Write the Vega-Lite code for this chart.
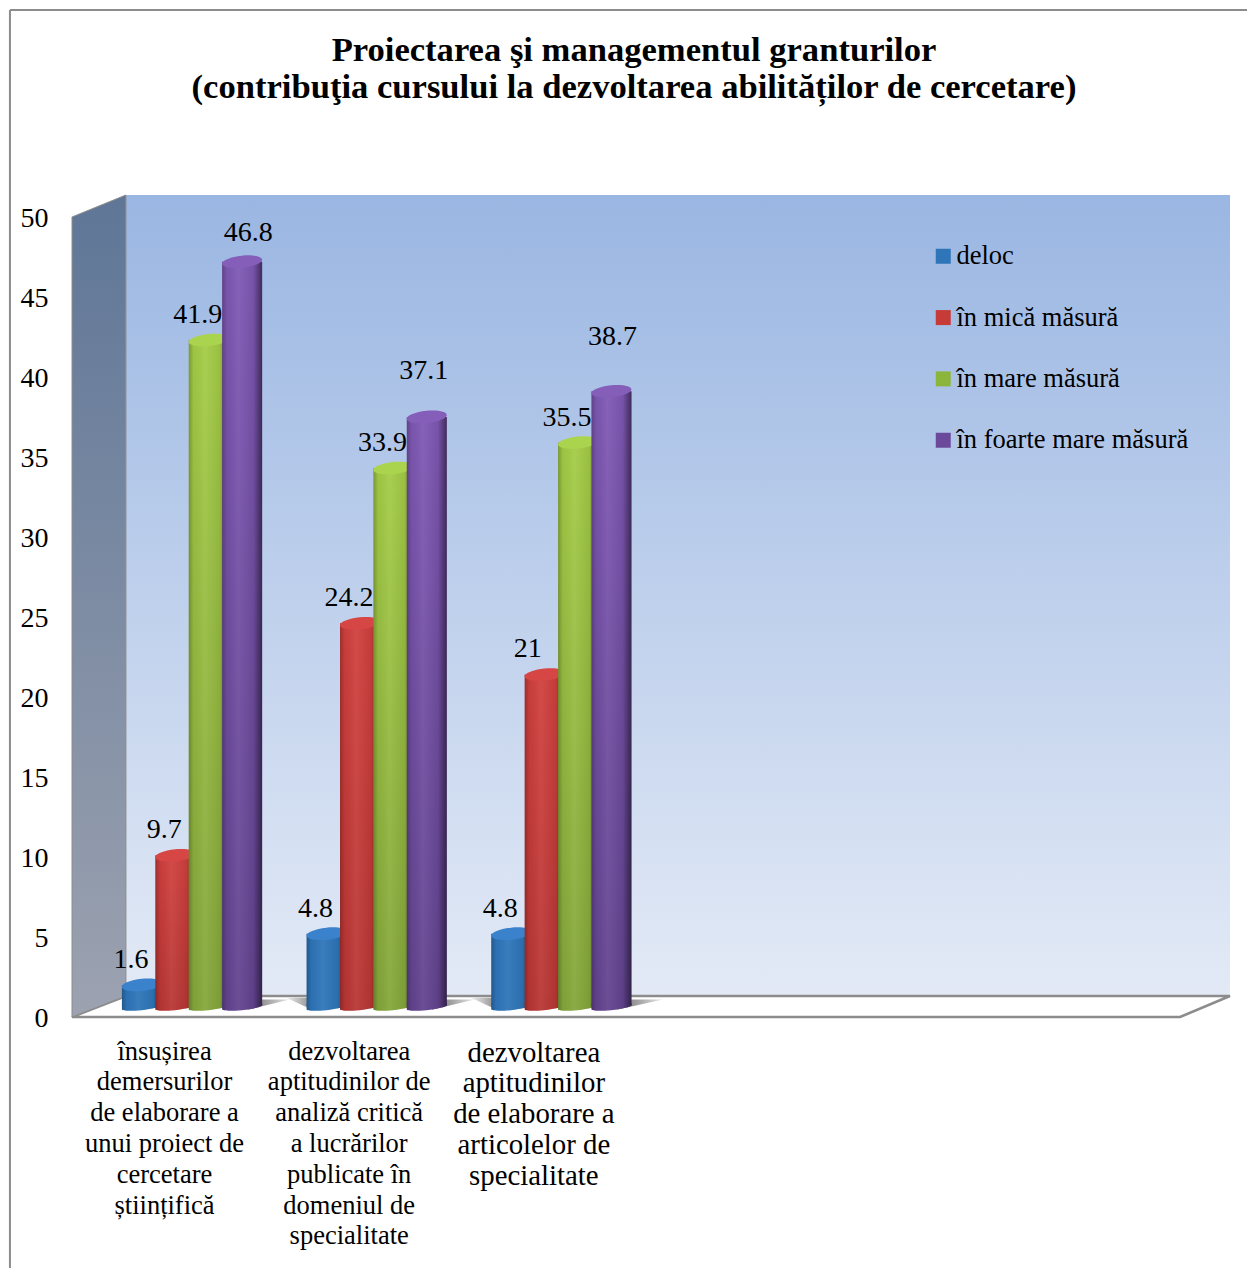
{
"$schema":"https://vega.github.io/schema/vega-lite/v6.json",
"autosize":{"type":"none"},
"padding":{"left":72,"top":195,"right":17,"bottom":251},
"width":1158,"height":822,
"background":"white",
"config":{"view":{"stroke":null},"font":"Liberation Serif"},
"title":{"text":["Proiectarea şi managementul granturilor","(contribuţia cursului la dezvoltarea abilităților de cercetare)"],"anchor":"middle","frame":"group","dx":-17,"offset":0,"dy":97,"fontSize":34.6,"fontWeight":"bold","font":"Liberation Serif","lineHeight":37,"color":"#000000"},
"datasets":{"scores":[
{"criteriu":"însușirea|demersurilor|de elaborare a|unui proiect de|cercetare|științifică","nivel":"deloc","valoare":1.6},
{"criteriu":"însușirea|demersurilor|de elaborare a|unui proiect de|cercetare|științifică","nivel":"în mică măsură","valoare":9.7},
{"criteriu":"însușirea|demersurilor|de elaborare a|unui proiect de|cercetare|științifică","nivel":"în mare măsură","valoare":41.9},
{"criteriu":"însușirea|demersurilor|de elaborare a|unui proiect de|cercetare|științifică","nivel":"în foarte mare măsură","valoare":46.8},
{"criteriu":"dezvoltarea|aptitudinilor de|analiză critică|a lucrărilor|publicate în|domeniul de|specialitate","nivel":"deloc","valoare":4.8},
{"criteriu":"dezvoltarea|aptitudinilor de|analiză critică|a lucrărilor|publicate în|domeniul de|specialitate","nivel":"în mică măsură","valoare":24.2},
{"criteriu":"dezvoltarea|aptitudinilor de|analiză critică|a lucrărilor|publicate în|domeniul de|specialitate","nivel":"în mare măsură","valoare":33.9},
{"criteriu":"dezvoltarea|aptitudinilor de|analiză critică|a lucrărilor|publicate în|domeniul de|specialitate","nivel":"în foarte mare măsură","valoare":37.1},
{"criteriu":"dezvoltarea|aptitudinilor|de elaborare a|articolelor de|specialitate","nivel":"deloc","valoare":4.8},
{"criteriu":"dezvoltarea|aptitudinilor|de elaborare a|articolelor de|specialitate","nivel":"în mică măsură","valoare":21},
{"criteriu":"dezvoltarea|aptitudinilor|de elaborare a|articolelor de|specialitate","nivel":"în mare măsură","valoare":35.5},
{"criteriu":"dezvoltarea|aptitudinilor|de elaborare a|articolelor de|specialitate","nivel":"în foarte mare măsură","valoare":38.7}
]},
"layer":[
{
"encoding":{
"x":{"field":"x","type":"quantitative","scale":{"domain":[0,6.27],"nice":false,"zero":false},"axis":null},
"y":{"field":"y","type":"quantitative","scale":{"domain":[0,51.375],"nice":false,"zero":false},"axis":{"title":null,"values":[0,5,10,15,20,25,30,35,40,45,50],"grid":false,"domain":false,"ticks":false,"labelPadding":24,"labelFontSize":28,"labelOffset":1,"labelColor":"#000000","labelFont":"Liberation Serif"}}
},
"layer":[
{"data":{"values":[{"x":0.292,"x2":6.27,"y":51.375,"y2":1.3125}]},
"mark":{"type":"rect","color":{"gradient":"linear","x1":0,"y1":0,"x2":0,"y2":1,"stops":[{"offset":0,"color":"#9AB6E2"},{"offset":1,"color":"#E3EAF6"}]}},
"encoding":{"x2":{"field":"x2"},"y2":{"field":"y2"}}},
{"data":{"values":[{"x":0,"y":0,"y2":0},{"x":0.292,"y":1.3125,"y2":0},{"x":6,"y":1.3125,"y2":0},{"x":6.27,"y":1.3125,"y2":1.3125}]},
"mark":{"type":"area","fill":"#FFFFFF","stroke":"#8C8C8C","strokeWidth":2.5},
"encoding":{"y2":{"field":"y2"}}},
{"data":{"values":[{"x":0,"y":50,"y2":0},{"x":0.292,"y":51.375,"y2":1.3125}]},
"mark":{"type":"area","color":{"gradient":"linear","x1":0,"y1":0,"x2":0,"y2":1,"stops":[{"offset":0,"color":"#5F7697"},{"offset":1,"color":"#9CA2B0"}]},"stroke":"#8C8C8C","strokeWidth":1},
"encoding":{"y2":{"field":"y2"}}},
{"data":{"values":[{"g":1,"x":0.95,"y":1.1,"y2":0.45},{"g":1,"x":1.18,"y":1.1,"y2":1.1},{"g":2,"x":1.95,"y":1.1,"y2":0.45},{"g":2,"x":2.18,"y":1.1,"y2":1.1},{"g":3,"x":2.95,"y":1.1,"y2":0.45},{"g":3,"x":3.2,"y":1.1,"y2":1.1}]},
"mark":{"type":"area","color":{"gradient":"linear","x1":0,"y1":0,"x2":1,"y2":0,"stops":[{"offset":0,"color":"#666666"},{"offset":1,"color":"#E8E8E8"}]}},
"encoding":{"y2":{"field":"y2"},"detail":{"field":"g"}}},
{"data":{"values":[{"g":2,"x":1.16,"y":1.2,"y2":1.2},{"g":2,"x":1.3,"y":1.2,"y2":0.45},{"g":3,"x":2.16,"y":1.2,"y2":1.2},{"g":3,"x":2.3,"y":1.2,"y2":0.45}]},
"mark":{"type":"area","color":{"gradient":"linear","x1":0,"y1":0,"x2":1,"y2":0,"stops":[{"offset":0,"color":"#EEEEEE"},{"offset":1,"color":"#8A8A8A"}]}},
"encoding":{"y2":{"field":"y2"},"detail":{"field":"g"}}},
{"data":{"values":[{"x":-0.336,"y":62.94,"y2":-15.7}]},
"mark":{"type":"rule","color":"#8C8C8C","strokeWidth":2},
"encoding":{"y2":{"field":"y2"}}},
{"data":{"values":[{"x":-0.336,"x2":6.4,"y":62.94}]},
"mark":{"type":"rule","color":"#8C8C8C","strokeWidth":2},
"encoding":{"x2":{"field":"x2"}}}
]
},
{
"data":{"name":"scores"},
"encoding":{
"x":{"field":"criteriu","type":"nominal","sort":null,"scale":{"type":"band","domain":["însușirea|demersurilor|de elaborare a|unui proiect de|cercetare|științifică","dezvoltarea|aptitudinilor de|analiză critică|a lucrărilor|publicate în|domeniul de|specialitate","dezvoltarea|aptitudinilor|de elaborare a|articolelor de|specialitate"," ","  ","   "],"range":[27.7,1135.7],"paddingInner":0.2766,"paddingOuter":0.1383},
"axis":{"title":null,"labelExpr":"split(datum.label,'|')","labelAngle":0,"labelOffset":-27.5,"labelFontSize":{"condition":{"test":"indexof(datum.value,'articolelor')>=0","value":28.8},"value":26.5},"labelLineHeight":30.8,"labelLimit":0,"labelPadding":21,"labelBaseline":"top","labelColor":"#000000","labelFont":"Liberation Serif","domain":false,"ticks":false,"grid":false,"labelOverlap":false}},
"xOffset":{"field":"nivel","type":"nominal","sort":null,"scale":{"domain":["deloc","în mică măsură","în mare măsură","în foarte mare măsură"],"paddingInner":0,"paddingOuter":0}},
"y":{"field":"valoare","type":"quantitative","stack":null,"scale":{"domain":[-0.406,50.969],"nice":false,"zero":false},"axis":null}
},
"layer":[
{"transform":[{"filter":"datum.nivel==='deloc'"}],"layer":[
{"mark":{"type":"point","filled":true,"opacity":1,"size":1600,"shape":"M -1 -0.2 L -1 0.1 A 1 0.14 -6 0 0 1 -0.1 L 1 -0.2 Z","color":"#2E75B9"},"encoding":{"y":{"datum":0.2}}},
{"mark":{"type":"point","filled":true,"opacity":1,"size":1600,"shape":"M -1 -0.2 L -1 0.1 A 1 0.14 -6 0 0 1 -0.1 L 1 -0.2 Z","color":{"gradient":"linear","x1":0,"y1":0,"x2":1,"y2":0,"stops":[{"offset":0,"color":"rgba(0,0,0,0.25)"},{"offset":0.12,"color":"rgba(0,0,0,0.04)"},{"offset":0.4,"color":"rgba(255,255,255,0.06)"},{"offset":0.78,"color":"rgba(0,0,0,0.06)"},{"offset":1,"color":"rgba(0,0,0,0.5)"}]}},"encoding":{"y":{"datum":0.2}}},
{"mark":{"type":"bar","width":40},"encoding":{"y2":{"datum":0.3},"color":{"field":"nivel","type":"nominal","scale":{"domain":["deloc","în mică măsură","în mare măsură","în foarte mare măsură"],"range":["#2E75B9","#C63A38","#8CB53C","#6B4A9B"]},"legend":{"title":null,"orient":"none","legendX":858,"legendY":48,"symbolType":"square","symbolSize":225,"symbolStrokeWidth":0,"labelFontSize":26.5,"labelFont":"Liberation Serif","labelColor":"#000000","labelOffset":0,"rowPadding":34.33,"labelLimit":0}}}},
{"mark":{"type":"bar","width":40,"color":{"gradient":"linear","x1":0,"y1":0,"x2":1,"y2":0,"stops":[{"offset":0,"color":"rgba(0,0,0,0.25)"},{"offset":0.12,"color":"rgba(0,0,0,0.04)"},{"offset":0.4,"color":"rgba(255,255,255,0.06)"},{"offset":0.78,"color":"rgba(0,0,0,0.06)"},{"offset":1,"color":"rgba(0,0,0,0.5)"}]}},"encoding":{"y2":{"datum":0.3}}},
{"mark":{"type":"point","filled":true,"opacity":1,"size":1600,"shape":"M -1 0.1 A 1 0.3 -6 1 1 1 -0.1 A 1 0.3 -6 1 1 -1 0.1 Z","color":"#3A82CC"}}
]},
{"transform":[{"filter":"datum.nivel==='în mică măsură'"}],"layer":[
{"mark":{"type":"point","filled":true,"opacity":1,"size":1600,"shape":"M -1 -0.2 L -1 0.1 A 1 0.14 -6 0 0 1 -0.1 L 1 -0.2 Z","color":"#B83634"},"encoding":{"y":{"datum":0.2}}},
{"mark":{"type":"point","filled":true,"opacity":1,"size":1600,"shape":"M -1 -0.2 L -1 0.1 A 1 0.14 -6 0 0 1 -0.1 L 1 -0.2 Z","color":{"gradient":"linear","x1":0,"y1":0,"x2":1,"y2":0,"stops":[{"offset":0,"color":"rgba(0,0,0,0.25)"},{"offset":0.12,"color":"rgba(0,0,0,0.04)"},{"offset":0.4,"color":"rgba(255,255,255,0.06)"},{"offset":0.78,"color":"rgba(0,0,0,0.06)"},{"offset":1,"color":"rgba(0,0,0,0.5)"}]}},"encoding":{"y":{"datum":0.2}}},
{"mark":{"type":"bar","width":40,"color":{"gradient":"linear","x1":0,"y1":0,"x2":0,"y2":1,"stops":[{"offset":0,"color":"#D0403E"},{"offset":1,"color":"#B83634"}]}},"encoding":{"y2":{"datum":0.3}}},
{"mark":{"type":"bar","width":40,"color":{"gradient":"linear","x1":0,"y1":0,"x2":1,"y2":0,"stops":[{"offset":0,"color":"rgba(0,0,0,0.25)"},{"offset":0.12,"color":"rgba(0,0,0,0.04)"},{"offset":0.4,"color":"rgba(255,255,255,0.06)"},{"offset":0.78,"color":"rgba(0,0,0,0.06)"},{"offset":1,"color":"rgba(0,0,0,0.5)"}]}},"encoding":{"y2":{"datum":0.3}}},
{"mark":{"type":"point","filled":true,"opacity":1,"size":1600,"shape":"M -1 0.1 A 1 0.3 -6 1 1 1 -0.1 A 1 0.3 -6 1 1 -1 0.1 Z","color":"#D64644"}}
]},
{"transform":[{"filter":"datum.nivel==='în mare măsură'"}],"layer":[
{"mark":{"type":"point","filled":true,"opacity":1,"size":1600,"shape":"M -1 -0.2 L -1 0.1 A 1 0.14 -6 0 0 1 -0.1 L 1 -0.2 Z","color":"#84A63A"},"encoding":{"y":{"datum":0.2}}},
{"mark":{"type":"point","filled":true,"opacity":1,"size":1600,"shape":"M -1 -0.2 L -1 0.1 A 1 0.14 -6 0 0 1 -0.1 L 1 -0.2 Z","color":{"gradient":"linear","x1":0,"y1":0,"x2":1,"y2":0,"stops":[{"offset":0,"color":"rgba(0,0,0,0.25)"},{"offset":0.12,"color":"rgba(0,0,0,0.04)"},{"offset":0.4,"color":"rgba(255,255,255,0.06)"},{"offset":0.78,"color":"rgba(0,0,0,0.06)"},{"offset":1,"color":"rgba(0,0,0,0.5)"}]}},"encoding":{"y":{"datum":0.2}}},
{"mark":{"type":"bar","width":40,"color":{"gradient":"linear","x1":0,"y1":0,"x2":0,"y2":1,"stops":[{"offset":0,"color":"#A4CC46"},{"offset":1,"color":"#84A63A"}]}},"encoding":{"y2":{"datum":0.3}}},
{"mark":{"type":"bar","width":40,"color":{"gradient":"linear","x1":0,"y1":0,"x2":1,"y2":0,"stops":[{"offset":0,"color":"rgba(0,0,0,0.25)"},{"offset":0.12,"color":"rgba(0,0,0,0.04)"},{"offset":0.4,"color":"rgba(255,255,255,0.06)"},{"offset":0.78,"color":"rgba(0,0,0,0.06)"},{"offset":1,"color":"rgba(0,0,0,0.5)"}]}},"encoding":{"y2":{"datum":0.3}}},
{"mark":{"type":"point","filled":true,"opacity":1,"size":1600,"shape":"M -1 0.1 A 1 0.3 -6 1 1 1 -0.1 A 1 0.3 -6 1 1 -1 0.1 Z","color":"#AAD44E"}}
]},
{"transform":[{"filter":"datum.nivel==='în foarte mare măsură'"}],"layer":[
{"mark":{"type":"point","filled":true,"opacity":1,"size":1600,"shape":"M -1 -0.2 L -1 0.1 A 1 0.14 -6 0 0 1 -0.1 L 1 -0.2 Z","color":"#62438F"},"encoding":{"y":{"datum":0.2}}},
{"mark":{"type":"point","filled":true,"opacity":1,"size":1600,"shape":"M -1 -0.2 L -1 0.1 A 1 0.14 -6 0 0 1 -0.1 L 1 -0.2 Z","color":{"gradient":"linear","x1":0,"y1":0,"x2":1,"y2":0,"stops":[{"offset":0,"color":"rgba(0,0,0,0.25)"},{"offset":0.12,"color":"rgba(0,0,0,0.04)"},{"offset":0.4,"color":"rgba(255,255,255,0.06)"},{"offset":0.78,"color":"rgba(0,0,0,0.06)"},{"offset":1,"color":"rgba(0,0,0,0.5)"}]}},"encoding":{"y":{"datum":0.2}}},
{"mark":{"type":"bar","width":40,"color":{"gradient":"linear","x1":0,"y1":0,"x2":0,"y2":1,"stops":[{"offset":0,"color":"#7F58B4"},{"offset":1,"color":"#62438F"}]}},"encoding":{"y2":{"datum":0.3}}},
{"mark":{"type":"bar","width":40,"color":{"gradient":"linear","x1":0,"y1":0,"x2":1,"y2":0,"stops":[{"offset":0,"color":"rgba(0,0,0,0.25)"},{"offset":0.12,"color":"rgba(0,0,0,0.04)"},{"offset":0.4,"color":"rgba(255,255,255,0.06)"},{"offset":0.78,"color":"rgba(0,0,0,0.06)"},{"offset":1,"color":"rgba(0,0,0,0.5)"}]}},"encoding":{"y2":{"datum":0.3}}},
{"mark":{"type":"point","filled":true,"opacity":1,"size":1600,"shape":"M -1 0.1 A 1 0.3 -6 1 1 1 -0.1 A 1 0.3 -6 1 1 -1 0.1 Z","color":"#845EB8"}}
]},
{"transform":[{"filter":"datum.valoare!==46.8 && datum.valoare!==37.1 && datum.valoare!==38.7 && datum.valoare!==21"}],
"mark":{"type":"text","fontSize":28,"font":"Liberation Serif","color":"#000000","dx":-11,"dy":-25},"encoding":{"text":{"field":"valoare","type":"quantitative"}}},
{"transform":[{"filter":"datum.valoare===46.8"}],
"mark":{"type":"text","fontSize":28,"font":"Liberation Serif","color":"#000000","dx":6,"dy":-29},"encoding":{"text":{"field":"valoare","type":"quantitative"}}},
{"transform":[{"filter":"datum.valoare===37.1"}],
"mark":{"type":"text","fontSize":28,"font":"Liberation Serif","color":"#000000","dx":-3,"dy":-46},"encoding":{"text":{"field":"valoare","type":"quantitative"}}},
{"transform":[{"filter":"datum.valoare===38.7"}],
"mark":{"type":"text","fontSize":28,"font":"Liberation Serif","color":"#000000","dx":1,"dy":-54},"encoding":{"text":{"field":"valoare","type":"quantitative"}}},
{"transform":[{"filter":"datum.valoare===21"}],
"mark":{"type":"text","fontSize":28,"font":"Liberation Serif","color":"#000000","dx":-17,"dy":-26},"encoding":{"text":{"field":"valoare","type":"quantitative"}}}
]
}
],
"resolve":{"scale":{"x":"independent","y":"independent"},"axis":{"x":"independent","y":"independent"}}
}
